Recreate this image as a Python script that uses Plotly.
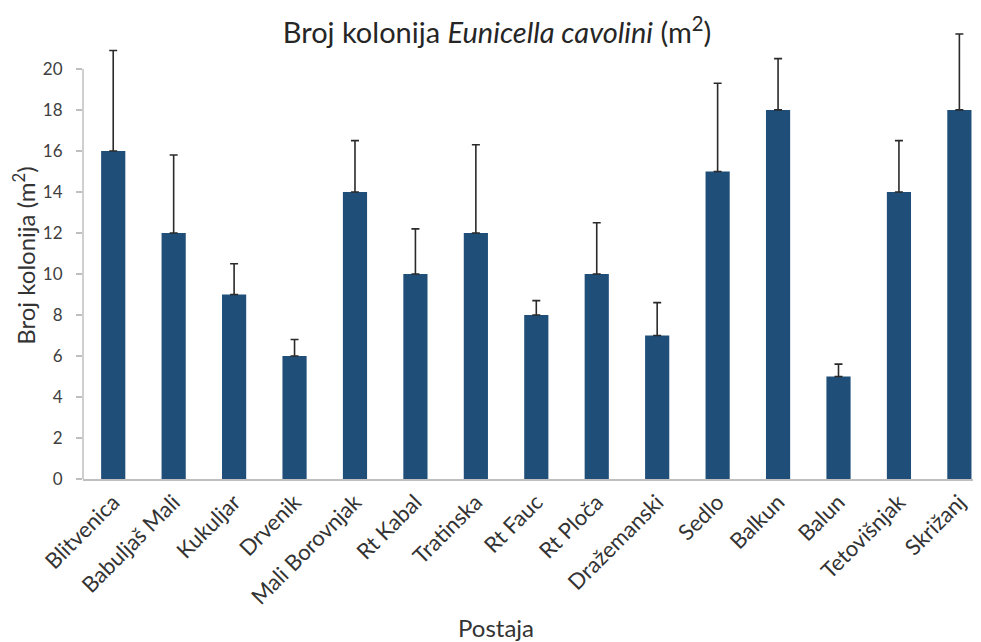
import plotly.graph_objects as go

stations = ["Blitvenica", "Babuljaš Mali", "Kukuljar", "Drvenik", "Mali Borovnjak",
            "Rt Kabal", "Tratinska", "Rt Fauc", "Rt Ploča", "Dražemanski",
            "Sedlo", "Balkun", "Balun", "Tetovišnjak", "Skrižanj"]
colonies = [16, 12, 9, 6, 14, 10, 12, 8, 10, 7, 15, 18, 5, 14, 18]
errors_plus = [4.9, 3.8, 1.5, 0.8, 2.5, 2.2, 4.3, 0.7, 2.5, 1.6, 4.3, 2.5, 0.6, 2.5, 3.7]
y_ticks = [0, 2, 4, 6, 8, 10, 12, 14, 16, 18, 20]

FONT = "Lato, 'Open Sans', sans-serif"
AXIS_GRAY = "#bfbfbf"

fig = go.Figure(go.Bar(
    x=stations, y=colonies,
    marker=dict(color="#1f4e79", line=dict(width=0)),
    error_y=dict(type="data", array=errors_plus, symmetric=False,
                 arrayminus=[0] * len(errors_plus),
                 color="#2a2a2a", thickness=1.6, width=4),
))

# y axis line only spans 0..20 like the original (error bars overflow above)
fig.add_shape(type="line", xref="paper", yref="y", x0=0, x1=0, y0=0, y1=20,
              line=dict(color=AXIS_GRAY, width=1.5))

# x axis title, centred on the visible chart rather than the (cut-off) plot area
fig.add_annotation(text="Postaja", xref="paper", yref="paper", x=0.456, y=-0.333,
                   xanchor="center", yanchor="middle", showarrow=False,
                   font=dict(size=24, color="#333333", family=FONT))

fig.update_layout(
    width=981, height=642,
    margin=dict(l=75, r=0, t=24, b=171),
    paper_bgcolor="white", plot_bgcolor="white",
    bargap=0.6,
    showlegend=False,
    font=dict(family=FONT, color="#404040"),
    title=dict(text="Broj kolonija <i>Eunicella cavolini</i> (m<sup>2</sup>)",
               x=0.4985, xanchor="center", y=0.961, yanchor="middle",
               font=dict(size=29, color="#262626", family=FONT)),
    xaxis=dict(
        range=[-0.5, 14.49], automargin=False,
        tickangle=-45, tickfont=dict(size=22, color="#333333"),
        showline=True, linecolor=AXIS_GRAY, linewidth=1.5,
        ticks="", showgrid=False,
    ),
    yaxis=dict(
        range=[0, 21.8], tickvals=y_ticks, automargin=False,
        tickfont=dict(size=17, color="#404040"),
        ticklabelstandoff=10,
        showline=False,
        ticks="outside", ticklen=6, tickcolor=AXIS_GRAY, tickwidth=1.5,
        showgrid=False, zeroline=False,
        title=dict(text="Broj kolonija (m<sup>2</sup>)", font=dict(size=24, color="#333333"), standoff=15),
    ),
)

fig.write_html("out.html")
